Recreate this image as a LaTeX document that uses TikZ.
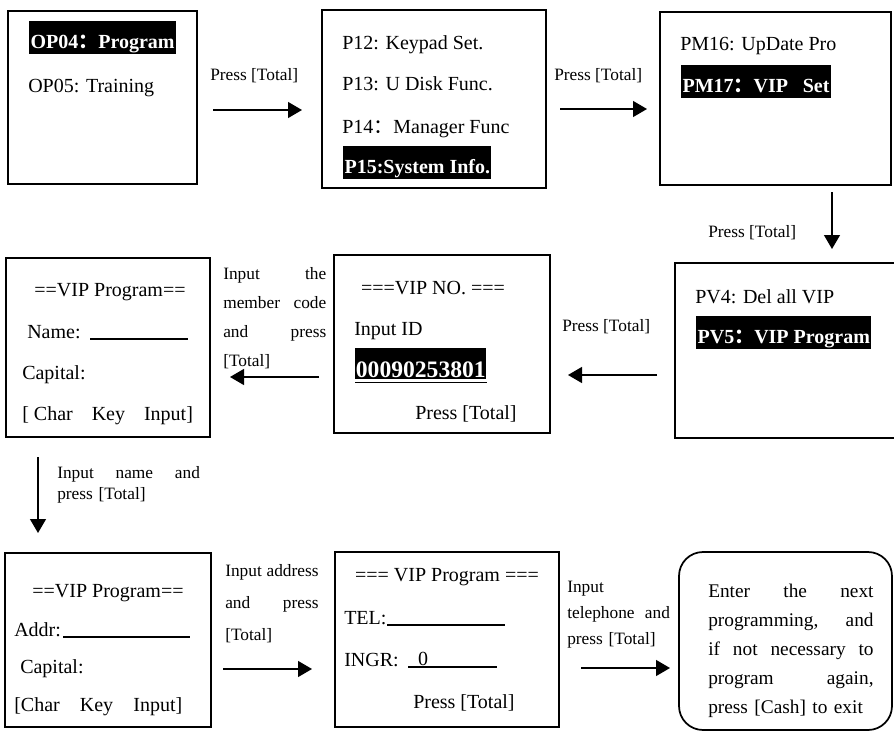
\documentclass[tikz,border=0pt]{standalone}
\usepackage{fontspec}
\setmainfont{Liberation Serif}
\newfontfamily\cjk{Noto Sans CJK SC}
\usetikzlibrary{arrows.meta,fit}
\newcommand{\fc}{{\cjk ：}}
\begin{document}
\begin{tikzpicture}[x=0.75pt,y=-0.75pt,
  scr/.style={draw,line width=1.3pt,inner sep=0pt},
  txt/.style={anchor=base west,inner sep=0pt,font=\fontsize{15}{18}\selectfont},
  ctxt/.style={anchor=base,inner sep=0pt,font=\fontsize{15}{18}\selectfont},
  hl/.style={anchor=base west,inner ysep=0pt,inner xsep=1pt,fill=black,text=white,
    font=\bfseries\fontsize{15}{18}\selectfont,text height=20pt,text depth=4.5pt},
  lbl/.style={anchor=base west,inner sep=0pt,font=\fontsize{13}{16}\selectfont},
  arr/.style={line width=1pt,-{Triangle[length=10.5pt,width=12pt]}},
  uline/.style={line width=0.8pt}
]
\useasboundingbox (0,0) rectangle (894,732);

% screens
\node[scr,fit={(8,11)(197,184)}] (b1) {};
\node[scr,fit={(322,10)(546,188)}] (b2) {};
\node[scr,fit={(660,12)(891,185)}] (b3) {};
\node[scr,fit={(675,263)(897,438)}] (b4) {};
\node[scr,fit={(334,255)(550,433)}] (b5) {};
\node[scr,fit={(6,258)(210,437)}] (b6) {};
\node[scr,fit={(5,553)(211,727)}] (b7) {};
\node[scr,fit={(335,552)(559,727)}] (b8) {};
\node[scr,fit={(679,552)(892,730)},rounded corners=18pt] (b9) {};

% box 1
\node[hl] (t1a) at (29,48) {OP04\fc Program};
\node[txt] (t1b) at (28,92) {OP05: Training};

% box 2
\node[txt] (t2a) at (342,49) {P12: Keypad Set.};
\node[txt] (t2b) at (342,90) {P13: U Disk Func.};
\node[txt] (t2c) at (342,133) {P14\fc Manager Func};
\node[hl] (t2d) at (343,173) {P15:System Info.};

% box 3
\node[txt] (t3a) at (680,50) {PM16: UpDate Pro};
\node[hl] (t3b) at (681,92) {PM17\fc VIP\hspace{11pt}Set};

% box 4
\node[txt] (t4a) at (695,303) {PV4: Del all VIP};
\node[hl] (t4b) at (696,343) {PV5\fc VIP Program};

% box 5
\node[ctxt] (t5a) at (433,294) {===VIP NO. ===};
\node[txt] (t5b) at (354,335) {Input ID};
\node[anchor=base west,inner ysep=0pt,inner xsep=0.5pt,fill=black,text=white,
  font=\bfseries\fontsize{17.7}{20}\selectfont,text height=21.75pt,text depth=1.5pt]
  (t5c) at (355,377) {00090253801};
\draw[line width=1.3pt] ([yshift=-2.5pt]t5c.south west) -- ([yshift=-2.5pt]t5c.south east);
\node[txt] (t5d) at (415,419) {Press [Total]};

% box 6
\node[ctxt] (t6a) at (110,296) {==VIP Program==};
\node[txt] (t6b) at (27,338) {Name:};
\draw[uline] (90,339) -- (188,339);
\node[txt] (t6c) at (22,379) {Capital:};
\node[txt] (t6d) at (22,420) {\hbox to 128pt{[ Char\hfill Key\hfill Input]}};

% box 7
\node[ctxt] (t7a) at (108,597) {==VIP Program==};
\node[txt] (t7b) at (14,636) {Addr:};
\draw[uline] (63,637) -- (190,637);
\node[txt] (t7c) at (20,673) {Capital:};
\node[txt] (t7d) at (14,711) {\hbox to 126pt{[Char\hfill Key\hfill Input]}};

% box 8
\node[ctxt] (t8a) at (447,581) {=== VIP Program ===};
\node[txt] (t8b) at (344,624) {TEL:};
\draw[uline] (387,625) -- (505,625);
\node[txt] (t8c) at (344,666) {INGR:};
\node[ctxt] (t8d) at (423,665) {0};
\draw[uline] (408,667) -- (497,667);
\node[txt] (t8e) at (413,708) {Press [Total]};

% box 9
\node[anchor=base west,inner sep=0pt,text width=124pt,
  font=\fontsize{14.5}{21.75}\selectfont] (t9) at (708,597)
  {Enter\hfill the\hfill next\\
   programming,\hfill and\\
   if\hfill not\hfill necessary\hfill to\\
   program\hfill again,\\
   press {[Cash]} to exit};

% labels
\node[lbl] (l1) at (210,80) {Press [Total]};
\node[lbl] (l2) at (554,80) {Press [Total]};
\node[lbl] (l3) at (708,237) {Press [Total]};
\node[lbl] (l4) at (562,331) {Press [Total]};
\node[lbl,text width=77.25pt,font=\fontsize{13}{21.75}\selectfont] (l5) at (223,279)
  {Input\hfill the\\member\hfill code\\and\hfill press\\{}[Total]};
\node[lbl,text width=107pt,font=\fontsize{13}{15.75}\selectfont] (l6) at (57,478)
  {Input\hfill name\hfill and\\press [Total]};
\node[lbl,text width=70pt,font=\fontsize{13}{24}\selectfont] (l7) at (225,576)
  {Input\hfill address\\and\hfill press\\{}[Total]};
\node[lbl,text width=77pt,font=\fontsize{13}{19.5}\selectfont] (l8) at (567,592)
  {Input\\telephone\hfill and\\press [Total]};

% arrow end points
\coordinate (a1s) at (213,110); \coordinate (a1e) at (302,110);
\coordinate (a2s) at (560,109); \coordinate (a2e) at (647,109);
\coordinate (a3s) at (832,192); \coordinate (a3e) at (832,249);
\coordinate (a4s) at (657,375); \coordinate (a4e) at (568,375);
\coordinate (a5s) at (319,377); \coordinate (a5e) at (230,377);
\coordinate (a6s) at (38,457);  \coordinate (a6e) at (38,533);
\coordinate (a7s) at (223,669); \coordinate (a7e) at (312,669);
\coordinate (a8s) at (581,668); \coordinate (a8e) at (670,668);

\draw[arr] (a1s) -- (a1e);
\draw[arr] (a2s) -- (a2e);
\draw[arr] (a3s) -- (a3e);
\draw[arr] (a4s) -- (a4e);
\draw[arr] (a5s) -- (a5e);
\draw[arr] (a6s) -- (a6e);
\draw[arr] (a7s) -- (a7e);
\draw[arr] (a8s) -- (a8e);
\end{tikzpicture}
\end{document}
